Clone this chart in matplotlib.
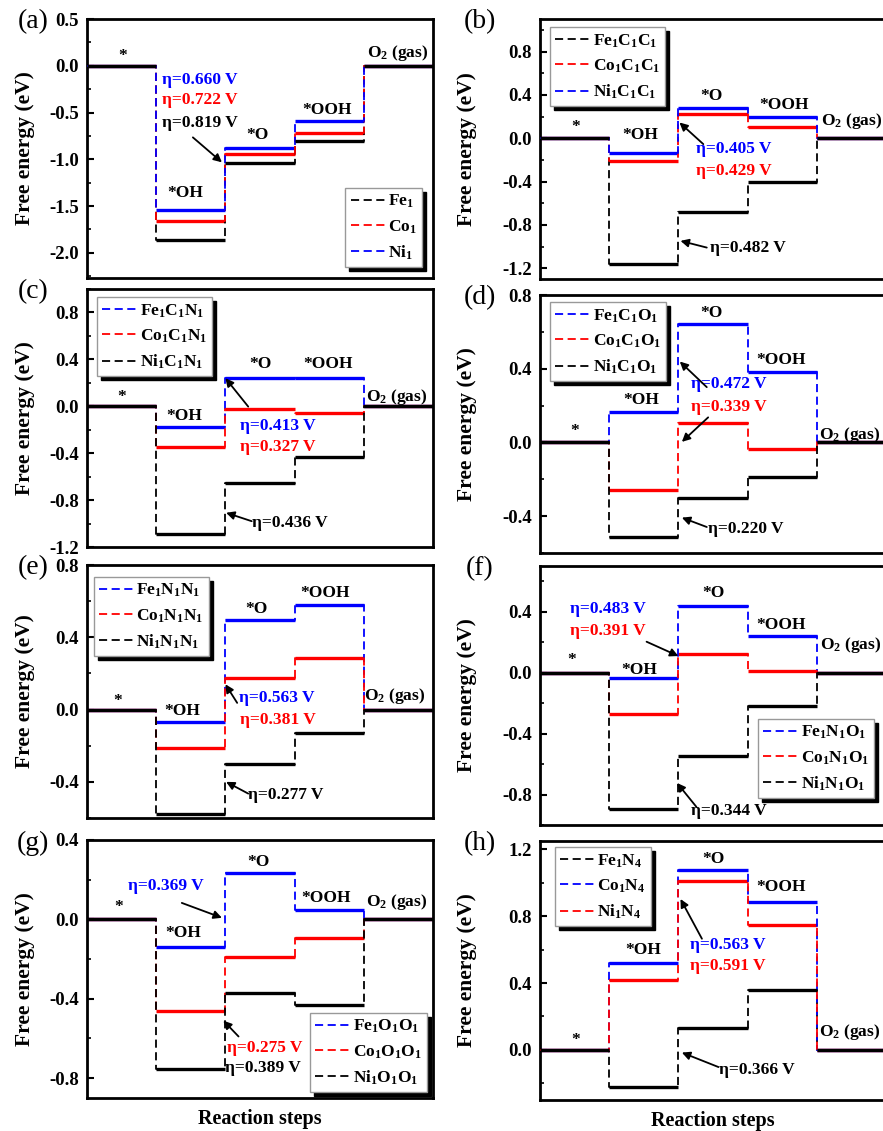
import matplotlib
matplotlib.use('Agg')
import matplotlib.pyplot as plt
from matplotlib.ticker import MultipleLocator, FormatStrFormatter

plt.rcParams.update({
    'font.family': ['Liberation Serif', 'DejaVu Serif'],
    'font.weight': 'bold',
    'mathtext.fontset': 'custom',
    'mathtext.rm': 'Liberation Serif:bold',
    'mathtext.it': 'Liberation Serif:bold',
    'mathtext.bf': 'Liberation Serif:bold',
    'axes.unicode_minus': False,
})

# ---------------- data ----------------
step_labels = ['*', '*OH', '*O', '*OOH', 'O$_2$ (gas)']

a_names = ['Fe$_1$', 'Co$_1$', 'Ni$_1$']
a_colors = ['black', 'red', 'blue']
a_fe = [0, -1.86, -1.04, -0.81, 0]
a_co = [0, -1.66, -0.94, -0.72, 0]
a_ni = [0, -1.54, -0.88, -0.59, 0]
a_eta = ['η=0.660 V', 'η=0.722 V', 'η=0.819 V']
a_eta_colors = ['blue', 'red', 'black']

b_names = ['Fe$_1$C$_1$C$_1$', 'Co$_1$C$_1$C$_1$', 'Ni$_1$C$_1$C$_1$']
b_colors = ['black', 'red', 'blue']
b_fe = [0, -1.16, -0.68, -0.40, 0]
b_co = [0, -0.21, 0.22, 0.10, 0]
b_ni = [0, -0.14, 0.275, 0.20, 0]
b_eta = ['η=0.405 V', 'η=0.429 V', 'η=0.482 V']
b_eta_colors = ['blue', 'red', 'black']

c_names = ['Fe$_1$C$_1$N$_1$', 'Co$_1$C$_1$N$_1$', 'Ni$_1$C$_1$N$_1$']
c_colors = ['blue', 'red', 'black']
c_fe = [0, -0.175, 0.24, 0.24, 0]
c_co = [0, -0.345, -0.02, -0.06, 0]
c_ni = [0, -1.09, -0.655, -0.43, 0]
c_eta = ['η=0.413 V', 'η=0.327 V', 'η=0.436 V']
c_eta_colors = ['blue', 'red', 'black']

d_names = ['Fe$_1$C$_1$O$_1$', 'Co$_1$C$_1$O$_1$', 'Ni$_1$C$_1$O$_1$']
d_colors = ['blue', 'red', 'black']
d_fe = [0, 0.163, 0.644, 0.38, 0]
d_co = [0, -0.26, 0.107, -0.038, 0]
d_ni = [0, -0.514, -0.299, -0.187, 0]
d_eta = ['η=0.472 V', 'η=0.339 V', 'η=0.220 V']
d_eta_colors = ['blue', 'red', 'black']

e_names = ['Fe$_1$N$_1$N$_1$', 'Co$_1$N$_1$N$_1$', 'Ni$_1$N$_1$N$_1$']
e_colors = ['blue', 'red', 'black']
e_fe = [0, -0.071, 0.493, 0.577, 0]
e_co = [0, -0.21, 0.173, 0.283, 0]
e_ni = [0, -0.577, -0.303, -0.13, 0]
e_eta = ['η=0.563 V', 'η=0.381 V', 'η=0.277 V']
e_eta_colors = ['blue', 'red', 'black']

f_names = ['Fe$_1$N$_1$O$_1$', 'Co$_1$N$_1$O$_1$', 'Ni$_1$N$_1$O$_1$']
f_colors = ['blue', 'red', 'black']
f_fe = [0, -0.037, 0.44, 0.24, 0]
f_co = [0, -0.272, 0.12, 0.013, 0]
f_ni = [0, -0.892, -0.545, -0.222, 0]
f_eta = ['η=0.483 V', 'η=0.391 V', 'η=0.344 V']
f_eta_colors = ['blue', 'red', 'black']

g_names = ['Fe$_1$O$_1$O$_1$', 'Co$_1$O$_1$O$_1$', 'Ni$_1$O$_1$O$_1$']
g_colors = ['blue', 'red', 'black']
g_fe = [0, -0.137, 0.233, 0.047, 0]
g_co = [0, -0.463, -0.188, -0.095, 0]
g_ni = [0, -0.753, -0.37, -0.433, 0]
g_eta = ['η=0.369 V', 'η=0.275 V', 'η=0.389 V']
g_eta_colors = ['blue', 'red', 'black']

h_names = ['Fe$_1$N$_4$', 'Co$_1$N$_4$', 'Ni$_1$N$_4$']
h_colors = ['black', 'blue', 'red']
h_fe = [0, -0.224, 0.133, 0.361, 0]
h_co = [0, 0.52, 1.076, 0.887, 0]
h_ni = [0, 0.42, 1.012, 0.75, 0]
h_eta = ['η=0.563 V', 'η=0.591 V', 'η=0.366 V']
h_eta_colors = ['blue', 'red', 'black']

# ---------------- layout ----------------
W, H = 883, 1131
fig = plt.figure(figsize=(W / 100, H / 100), dpi=100)

FS = 12.5      # annotation / legend text
TFS = 13.5     # tick labels

panels = [
    dict(tag='(a)', rect=(87, 19, 433, 278), ylim=(-2.27, 0.5), major=0.5,
         names=a_names, colors=a_colors, series=[a_fe, a_co, a_ni],
         eta=a_eta, eta_colors=a_eta_colors,
         steps=[(0.51, 0.10), (1.42, -1.366), (2.47, -0.744), (3.47, -0.475), (4.49, 0.136)],
         eta_pos=[(1.08, -0.153), (1.08, -0.368), (1.08, -0.615)],
         arrows=[((1.53, -0.766), (1.95, -1.033))],
         leg=('lower right', (0.968, 0.042)), xlabel=False),
    dict(tag='(b)', rect=(540, 19, 886, 279), ylim=(-1.3, 1.1), major=0.4,
         names=b_names, colors=b_colors, series=[b_fe, b_co, b_ni],
         eta=b_eta, eta_colors=b_eta_colors,
         steps=[(0.52, 0.10), (1.445, 0.028), (2.48, 0.39), (3.52, 0.305), (4.50, 0.16)],
         eta_pos=[(2.26, -0.10), (2.26, -0.30), (2.45, -1.01)],
         arrows=[((2.36, -0.055), (2.015, 0.145)), ((2.41, -1.01), (2.03, -0.948))],
         leg=('upper left', (0.029, 0.969)), xlabel=False),
    dict(tag='(c)', rect=(87, 289, 433, 547), ylim=(-1.2, 1.0), major=0.4,
         names=c_names, colors=c_colors, series=[c_fe, c_co, c_ni],
         eta=c_eta, eta_colors=c_eta_colors,
         steps=[(0.50, 0.08), (1.41, -0.08), (2.50, 0.362), (3.49, 0.362), (4.48, 0.077)],
         eta_pos=[(2.21, -0.166), (2.21, -0.346), (2.38, -0.994)],
         arrows=[((2.33, -0.003), (2.0, 0.24)), ((2.38, -0.98), (2.01, -0.908))],
         leg=('upper left', (0.029, 0.969)), xlabel=False),
    dict(tag='(d)', rect=(540, 295, 886, 553), ylim=(-0.6, 0.8), major=0.4,
         names=d_names, colors=d_colors, series=[d_fe, d_co, d_ni],
         eta=d_eta, eta_colors=d_eta_colors,
         steps=[(0.506, 0.06), (1.46, 0.23), (2.48, 0.70), (3.49, 0.448), (4.48, 0.04)],
         eta_pos=[(2.18, 0.317), (2.18, 0.194), (2.43, -0.468)],
         arrows=[((2.41, 0.30), (2.02, 0.439)), ((2.43, 0.136), (2.05, 0.003)),
                 ((2.41, -0.459), (2.05, -0.408))],
         leg=('upper left', (0.029, 0.973)), xlabel=False),
    dict(tag='(e)', rect=(87, 565, 433, 818), ylim=(-0.6, 0.8), major=0.4,
         names=e_names, colors=e_colors, series=[e_fe, e_co, e_ni],
         eta=e_eta, eta_colors=e_eta_colors,
         steps=[(0.45, 0.05), (1.38, -0.006), (2.45, 0.558), (3.44, 0.646), (4.45, 0.074)],
         eta_pos=[(2.19, 0.065), (2.21, -0.056), (2.33, -0.474)],
         arrows=[((2.17, 0.037), (2.0, 0.14)), ((2.33, -0.465), (2.01, -0.40))],
         leg=('upper left', (0.020, 0.953)), xlabel=False),
    dict(tag='(f)', rect=(540, 566, 886, 825), ylim=(-1.0, 0.7), major=0.4,
         names=f_names, colors=f_colors, series=[f_fe, f_co, f_ni],
         eta=f_eta, eta_colors=f_eta_colors,
         steps=[(0.46, 0.08), (1.43, 0.018), (2.50, 0.52), (3.49, 0.312), (4.49, 0.18)],
         eta_pos=[(0.43, 0.421), (0.43, 0.273), (2.18, -0.91)],
         arrows=[((1.54, 0.203), (2.0, 0.109)), ((2.26, -0.881), (1.98, -0.724))],
         leg=('lower right', (0.965, 0.104)), xlabel=False),
    dict(tag='(g)', rect=(87, 840, 433, 1098), ylim=(-0.9, 0.4), major=0.4,
         names=g_names, colors=g_colors, series=[g_fe, g_co, g_ni],
         eta=g_eta, eta_colors=g_eta_colors,
         steps=[(0.46, 0.06), (1.39, -0.067), (2.48, 0.29), (3.46, 0.108), (4.48, 0.09)],
         eta_pos=[(0.59, 0.167), (2.02, -0.65), (1.99, -0.75)],
         arrows=[((1.37, 0.083), (1.95, 0.008)), ((2.19, -0.59), (1.97, -0.51))],
         leg=('lower right', (0.983, 0.023)), xlabel=True),
    dict(tag='(h)', rect=(540, 841, 886, 1100), ylim=(-0.3, 1.25), major=0.4,
         names=h_names, colors=h_colors, series=[h_fe, h_co, h_ni],
         eta=h_eta, eta_colors=h_eta_colors,
         steps=[(0.52, 0.06), (1.49, 0.60), (2.50, 1.14), (3.49, 0.972), (4.48, 0.109)],
         eta_pos=[(2.17, 0.625), (2.17, 0.50), (2.58, -0.123)],
         arrows=[((2.34, 0.665), (2.03, 0.903)), ((2.58, -0.103), (2.05, -0.016))],
         leg=('upper left', (0.043, 0.977)), xlabel=True),
]


def draw(p):
    l, t, r, b = p['rect']
    ax = fig.add_axes([l / W, 1 - b / H, (r - l) / W, (b - t) / H])
    n = len(step_labels)
    for name, col, vals in zip(p['names'], p['colors'], p['series']):
        xs, ys = [], []
        for i, v in enumerate(vals):
            xs += [i, i + 1]
            ys += [v, v]
        ax.hlines(vals, list(range(n)), list(range(1, n + 1)), colors=col,
                  lw=2.4, zorder=3.5 if col == 'black' else 2)
        ax.plot(xs, ys, color=col, lw=1.3, ls=(0, (4.5, 2.5)), label=name, zorder=3)
    ax.set_xlim(0, n)
    ax.set_ylim(*p['ylim'])
    ax.set_xticks([])
    ax.yaxis.set_major_locator(MultipleLocator(p['major']))
    ax.yaxis.set_minor_locator(MultipleLocator(p['major'] / 2))
    ax.yaxis.set_major_formatter(FormatStrFormatter('%.1f'))
    ax.tick_params(axis='y', which='major', direction='in', length=5, width=1.5,
                   labelsize=TFS, pad=6)
    ax.tick_params(axis='y', which='minor', direction='in', length=3, width=1.2)
    for s in ax.spines.values():
        s.set_linewidth(2.0)
    ax.set_ylabel('Free energy (eV)', fontsize=15.5, fontweight='bold')
    left_col = l < 300
    ax.yaxis.set_label_coords((35 - l) / 346 if left_col else (477 - l) / 346, 0.5)
    for lab, (x, y) in zip(step_labels, p['steps']):
        ax.text(x, y, lab, fontsize=FS, fontweight='bold', ha='center', va='center', zorder=5)
    for lab, col, (x, y) in zip(p['eta'], p['eta_colors'], p['eta_pos']):
        ax.text(x, y, lab, color=col, fontsize=FS, fontweight='bold', ha='left',
                va='center', zorder=5)
    for tail, tip in p['arrows']:
        ax.annotate('', xy=tip, xytext=tail,
                    arrowprops=dict(arrowstyle='-|>', color='black', lw=1.3,
                                    mutation_scale=12, shrinkA=0, shrinkB=0),
                    zorder=6)
    loc, anchor = p['leg']
    leg = ax.legend(loc=loc, bbox_to_anchor=anchor, borderaxespad=0,
                    fontsize=FS, handlelength=2.0, handletextpad=0.15,
                    labelspacing=0.45, borderpad=0.3, fancybox=False,
                    shadow={'color': 'black', 'alpha': 1, 'ox': 3, 'oy': -3})
    leg.get_frame().set_edgecolor('0.6')
    leg.get_frame().set_linewidth(1.0)
    leg.set_zorder(7)
    if p['xlabel']:
        ax.set_xlabel('Reaction steps', fontsize=14.5, fontweight='bold', labelpad=8)
    fig.text((33 if left_col else 480) / W, 1 - (t + 3) / H, p['tag'], fontsize=20,
             fontweight='normal', ha='center', va='center')
    return ax


for p in panels:
    draw(p)

fig.savefig('out.png', dpi=100)
